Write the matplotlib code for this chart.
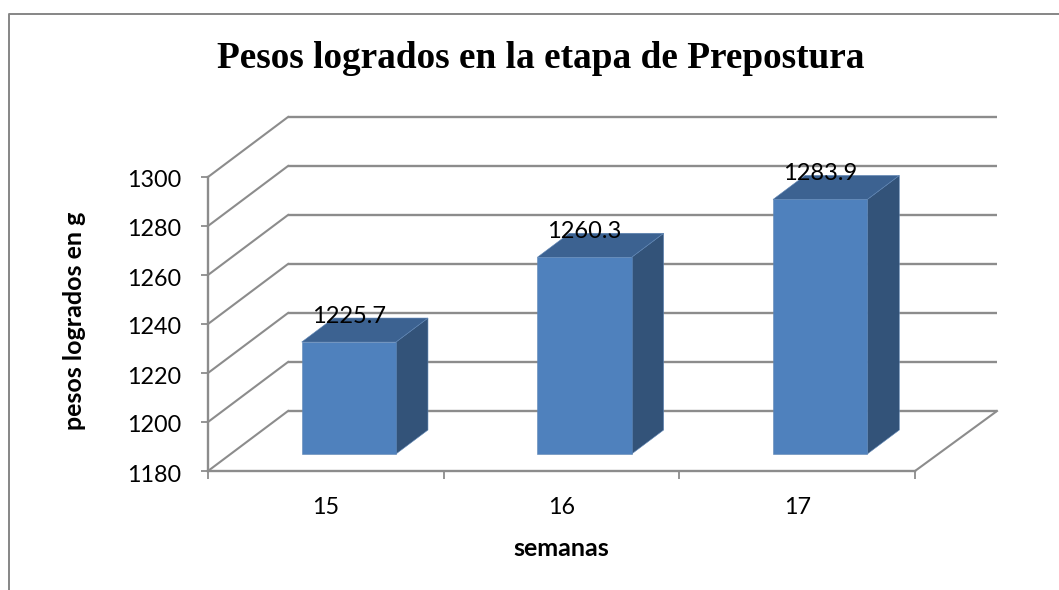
import matplotlib
matplotlib.use("Agg")
import matplotlib.pyplot as plt
from matplotlib.patches import Polygon, Rectangle
from matplotlib.transforms import Affine2D

weeks = ["15", "16", "17"]
weights = [1225.7, 1260.3, 1283.9]
y_ticks = [1180, 1200, 1220, 1240, 1260, 1280, 1300]
title = "Pesos logrados en la etapa de Prepostura"
x_label = "semanas"
y_label = "pesos logrados en g"

W, H = 1059, 590
GRID = "#8c8c8c"
FRONT, TOP, SIDE = "#4f81bd", "#3c6291", "#335379"
EDGE = "#5f86b5"
SANS = "Lato"

fig = plt.figure(figsize=(W / 100, H / 100), dpi=100, facecolor="white")

# page frame (left and top edges)
frame = fig.add_axes([0, 0, 1, 1], zorder=0)
frame.set_xlim(0, W)
frame.set_ylim(H, 0)
frame.axis("off")
frame.plot([9, 9, W], [H, 14, 14], color="#868686", lw=1.4)

L, R, T, B = 208, 915, 177, 471
ax = fig.add_axes([L / W, 1 - B / H, (R - L) / W, (B - T) / H], zorder=1)
ax.set_xlim(0, 3)
ax.set_ylim(y_ticks[0], y_ticks[-1])
ax.patch.set_alpha(0)
for s in ("top", "right"):
    ax.spines[s].set_visible(False)
for s in ("left", "bottom"):
    ax.spines[s].set_color(GRID)
    ax.spines[s].set_linewidth(1.7)
ax.set_xticks([0, 1, 2, 3])
ax.set_xticklabels([])
ax.set_yticks(y_ticks)
ax.set_yticklabels([str(v) for v in y_ticks], fontsize=16.8, family=SANS)
ax.tick_params(axis="y", length=5, width=1.3, color=GRID, pad=14, labelcolor="black")
ax.tick_params(axis="x", length=6, width=1.3, color=GRID, direction="out")
for lab in ax.get_yticklabels():
    lab.set_transform(lab.get_transform() + Affine2D().translate(0, -2))


def shifted(dx, dy):
    """data coordinates moved by dx, dy pixels (dy upward)"""
    return ax.transData + Affine2D().translate(dx, dy)


back = shifted(80, 60)
# walls: gridlines on the back wall + diagonals on the left wall
for v in y_ticks:
    (bx0, by), (bx1, _) = back.transform((0, v)), back.transform((3, v))
    ax.plot([bx0, bx1 + 2], [by, by], color=GRID, lw=1.7, transform=None, clip_on=False,
            zorder=1, solid_capstyle="butt")
    (x0, y0), (x1, y1) = ax.transData.transform((0, v)), back.transform((0, v))
    ax.plot([x0, x1], [y0, y1], color=GRID, lw=1.5, transform=None, clip_on=False, zorder=1)
(x0, y0), (x1, y1) = ax.transData.transform((3, y_ticks[0])), back.transform((3, y_ticks[0]))
ax.plot([x0, x1 + 2], [y0, y1], color=GRID, lw=1.5, transform=None, clip_on=False, zorder=1)

# 3-D bars
bar_w = 0.4
front_tr = shifted(23, 17)
deep_tr = shifted(23 + 32, 17 + 24)
for i, val in enumerate(weights):
    xl, xr = i + 0.5 - bar_w / 2, i + 0.5 + bar_w / 2
    base = y_ticks[0]
    pts = lambda tr, seq: [tr.transform(p) for p in seq]
    fl, fr = front_tr, deep_tr
    side = pts(fl, [(xr, base), (xr, val)]) + pts(fr, [(xr, val), (xr, base)])
    top = pts(fl, [(xl, val), (xr, val)]) + pts(fr, [(xr, val), (xl, val)])
    ax.add_patch(Polygon(side, closed=True, transform=None, fc=SIDE, ec=EDGE, lw=0.4,
                         clip_on=False, zorder=3))
    ax.add_patch(Polygon(top, closed=True, transform=None, fc=TOP, ec=EDGE, lw=0.4,
                         clip_on=False, zorder=3))
    ax.add_patch(Rectangle((xl, base), xr - xl, val - base, transform=front_tr, fc=FRONT,
                           ec=EDGE, lw=0.4, clip_on=False, zorder=4))
    # value label
    ax.text(i + 0.5, val, f"{val:.1f}", transform=shifted(23, 17 + 25.5), ha="center",
            va="center", fontsize=17, family=SANS, color="black", zorder=5, clip_on=False)
    # category label
    ax.annotate(weeks[i], (i + 0.5, base), xytext=(0, -43), textcoords="offset pixels",
                ha="center", va="baseline", fontsize=16.8, family=SANS, annotation_clip=False)

frame.text(541, 58, title, ha="center", va="center", fontsize=26.8, fontweight="bold",
           family="Liberation Serif", color="black")
frame.text(561, 549, x_label, ha="center", va="center", fontsize=18, fontweight="bold",
           family=SANS, color="black")
frame.text(74, 321, y_label, ha="center", va="center", rotation=90, fontsize=18,
           fontweight="bold", family=SANS, color="black")

fig.savefig("out.png", dpi=100)
